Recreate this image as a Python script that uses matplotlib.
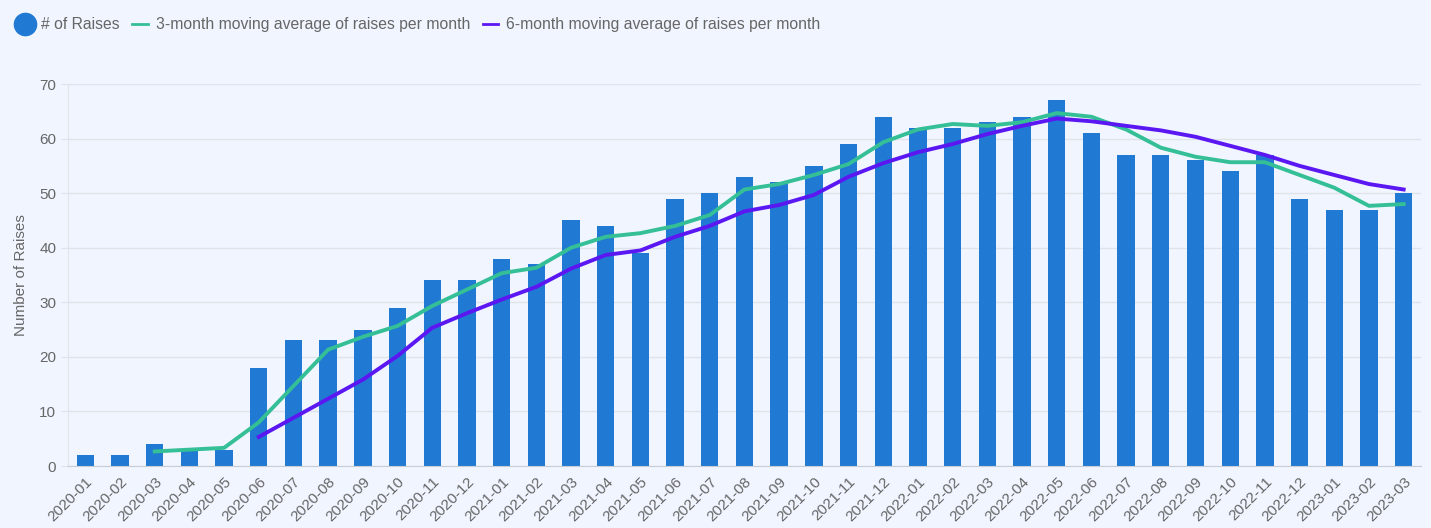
import numpy as np
import matplotlib.pyplot as plt
from matplotlib.lines import Line2D

plt.rcParams['font.family'] = ['Liberation Sans', 'DejaVu Sans']

months = ["2020-01", "2020-02", "2020-03", "2020-04", "2020-05", "2020-06",
          "2020-07", "2020-08", "2020-09", "2020-10", "2020-11", "2020-12",
          "2021-01", "2021-02", "2021-03", "2021-04", "2021-05", "2021-06",
          "2021-07", "2021-08", "2021-09", "2021-10", "2021-11", "2021-12",
          "2022-01", "2022-02", "2022-03", "2022-04", "2022-05", "2022-06",
          "2022-07", "2022-08", "2022-09", "2022-10", "2022-11", "2022-12",
          "2023-01", "2023-02", "2023-03"]

raises = [2, 2, 4, 3, 3, 18, 23, 23, 25, 29, 34, 34,
          38, 37, 45, 44, 39, 49, 50, 53, 52, 55, 59, 64,
          62, 62, 63, 64, 67, 61, 57, 57, 56, 54, 57, 49,
          47, 47, 50]

# 3-month moving average (starts 2020-03)
ma3 = [2.67, 3.0, 3.33, 8.0, 14.67, 21.33, 23.67, 25.67, 29.33, 32.33,
       35.33, 36.33, 40.0, 42.0, 42.67, 44.0, 46.0, 50.67, 51.67, 53.33, 55.33, 59.33,
       61.67, 62.67, 62.33, 63.0, 64.67, 64.0, 61.67, 58.33, 56.67, 55.67, 55.67, 53.33,
       51.0, 47.67, 48.0]

# 6-month moving average (starts 2020-06)
ma6 = [5.33, 8.83, 12.33, 15.83, 20.17, 25.33, 28.0,
       30.5, 32.83, 36.17, 38.67, 39.5, 42.0, 44.0, 46.67, 47.83, 49.67, 53.0, 55.5,
       57.5, 59.0, 60.83, 62.33, 63.67, 63.17, 62.33, 61.5, 60.33, 58.67, 57.0, 55.0,
       53.33, 51.67, 50.67]

bg = "#f0f5ff"
bar_c = "#2079d2"
c3 = "#35bf96"
c6 = "#5b17f2"
txt = "#666666"

x = np.arange(len(months))

fig = plt.figure(figsize=(14.31, 5.28), dpi=100, facecolor=bg)
ax = fig.add_axes([0.0475, 0.1174, 0.9455, 0.7235])
ax.set_facecolor(bg)

ax.bar(x, raises, width=0.5, color=bar_c, zorder=2)
ax.plot(x[2:], ma3, color=c3, lw=2.8, zorder=3)
ax.plot(x[5:], ma6, color=c6, lw=2.8, zorder=4)

ax.set_xlim(-0.5, len(months) - 0.5)
ax.set_ylim(0, 70)
ax.set_yticks(range(0, 71, 10))
ax.set_xticks(x)
ax.set_xticklabels(months, rotation=45, ha="right", rotation_mode="anchor")
ax.tick_params(axis="both", colors="#dfe3ea", labelcolor=txt, labelsize=11, length=5)
ax.tick_params(axis="x", length=0, pad=6)
ax.grid(axis="y", color="#dfe3ea", lw=1, zorder=0)
for s in ["top", "right"]:
    ax.spines[s].set_visible(False)
ax.spines["left"].set_color("#dfe3ea")
ax.spines["bottom"].set_color("#c9ced6")
ax.set_ylabel("Number of Raises", color=txt, fontsize=11, labelpad=8)

handles = [Line2D([], [], marker="o", color=bar_c, ls="", markersize=16),
           Line2D([], [], color=c3, lw=2),
           Line2D([], [], color=c6, lw=2)]
labels = ["# of Raises", "3-month moving average of raises per month",
          "6-month moving average of raises per month"]
fig.legend(handles, labels, loc="upper left", bbox_to_anchor=(0.004, 0.99), ncol=3,
           frameon=False, fontsize=11.3, labelcolor=txt, handlelength=1.0,
           handletextpad=0.5, columnspacing=0.8, borderaxespad=0.35)

fig.savefig("out.png", dpi=100, facecolor=bg)
